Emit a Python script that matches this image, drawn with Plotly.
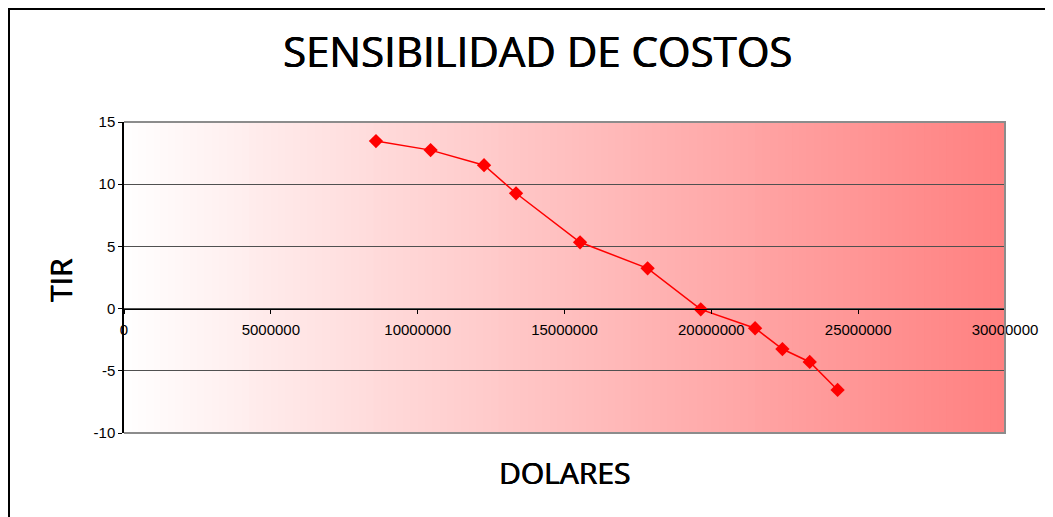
import plotly.graph_objects as go

# values
dolares = [8580000, 10440000, 12260000, 13350000, 15530000, 17830000,
           19640000, 21490000, 22420000, 23350000, 24300000]
tir = [13.47, 12.74, 11.53, 9.27, 5.33, 3.24, -0.06, -1.58, -3.25, -4.29, -6.54]

x_ticks = [0, 5000000, 10000000, 15000000, 20000000, 25000000, 30000000]
y_ticks = [-10, -5, 0, 5, 10, 15]

# the page body adds an 8px margin, so the figure is shifted by that much
OFF = 8
W, H = 1053 - OFF, 517 - OFF
L, R, T, B = 124 - OFF, 48, 122 - OFF, 84
pw, ph = W - L - R, H - T - B


def px_x(p):
    # page pixel -> paper coordinate
    return (p - OFF - L) / pw


def px_y(p):
    return (H - B - (p - OFF)) / ph


fig = go.Figure()
fig.add_trace(go.Scatter(
    x=dolares, y=tir, mode="lines+markers",
    line=dict(color="#ff0000", width=1.5),
    marker=dict(symbol="diamond", size=11, color="#ff0000"),
    showlegend=False, hoverinfo="x+y",
))

# horizontal white -> light red gradient behind the grid
shapes = []
n = 120
for i in range(n):
    f = (i + 0.5) / n
    g = int(round(255 - f * 127))
    shapes.append(dict(type="rect", xref="paper", yref="paper",
                       x0=i / n, x1=min((i + 1.6) / n, 1), y0=0, y1=1,
                       fillcolor=f"rgb(255,{g},{g})", line_width=0, layer="below"))
# plot area border (top, right, bottom)
shapes.append(dict(type="path", xref="paper", yref="paper",
                   path="M 0,1 L 1,1 L 1,0 L 0,0",
                   line=dict(color="#8c8c8c", width=2), layer="above"))
# outer chart frame
shapes.append(dict(type="path", xref="paper", yref="paper",
                   path=f"M {px_x(9)},-1 L {px_x(9)},{px_y(9)} L 1.5,{px_y(9)}",
                   line=dict(color="#000000", width=2), layer="above"))

tick_font = dict(family="Liberation Sans, Arial", size=15, color="#000000")
# slightly heavier than regular, lighter than bold
semi = "0.5px 0 0 #000, -0.3px 0 0 #000"

fig.update_layout(
    width=W, height=H,
    margin=dict(l=L, r=R, t=T, b=B),
    paper_bgcolor="#ffffff", plot_bgcolor="#ffffff",
    shapes=shapes,
    xaxis=dict(range=[0, 30000000], tickvals=x_ticks,
               ticktext=[str(v) for v in x_ticks],
               showgrid=False, zeroline=False,
               showline=True, linecolor="#000000", linewidth=1,
               ticks="outside", ticklen=4, tickcolor="#000000",
               anchor="free", position=10 / 25,
               ticklabelstandoff=3, tickfont=tick_font),
    yaxis=dict(range=[-10, 15], tickvals=y_ticks,
               ticktext=[str(v) for v in y_ticks],
               showgrid=True, gridcolor="#505050", gridwidth=1,
               zeroline=False,
               showline=True, linecolor="#000000", linewidth=1.5,
               ticks="outside", ticklen=4, tickcolor="#000000",
               tickfont=tick_font),
    annotations=[
        dict(text="SENSIBILIDAD DE COSTOS", xref="paper", yref="paper",
             x=px_x(537), y=px_y(50), xanchor="center", yanchor="middle",
             showarrow=False,
             font=dict(family="Open Sans", size=42, color="#000000", shadow=semi)),
        dict(text="TIR", xref="paper", yref="paper", textangle=-90,
             x=px_x(60), y=px_y(280), xanchor="center", yanchor="middle",
             showarrow=False,
             font=dict(family="Open Sans", size=30, color="#000000", shadow=semi)),
        dict(text="DOLARES", xref="paper", yref="paper",
             x=px_x(564), y=px_y(472), xanchor="center", yanchor="middle",
             showarrow=False,
             font=dict(family="Open Sans", size=30, color="#000000", shadow=semi)),
    ],
)

fig.write_html("out.html")
